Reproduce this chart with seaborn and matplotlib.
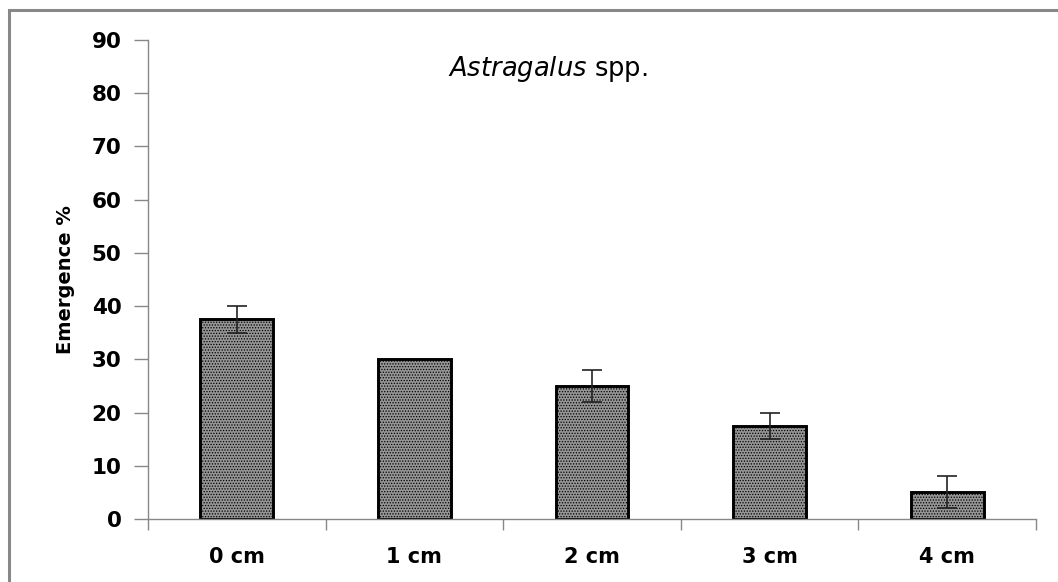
import matplotlib
matplotlib.use("Agg")
import matplotlib.pyplot as plt
import seaborn as sns
import pandas as pd
import numpy as np
from matplotlib.patches import Rectangle
from matplotlib.ticker import FixedLocator

categories = ["0 cm", "1 cm", "2 cm", "3 cm", "4 cm"]
emergence = [37.5, 30.0, 25.0, 17.5, 5.0]
errors = [2.5, 0.0, 3.0, 2.5, 3.0]
y_ticks = [0, 10, 20, 30, 40, 50, 60, 70, 80, 90]

sns.set_style("white")
plt.rcParams["font.family"] = ["DejaVu Sans"]
plt.rcParams["mathtext.fontset"] = "dejavusans"
plt.rcParams["hatch.color"] = "#222222"
plt.rcParams["hatch.linewidth"] = 0.6
plt.rcParams["text.color"] = "black"
plt.rcParams["xtick.color"] = "#888888"
plt.rcParams["ytick.color"] = "#888888"
plt.rcParams["xtick.labelcolor"] = "black"
plt.rcParams["ytick.labelcolor"] = "black"
plt.rcParams["axes.labelcolor"] = "black"

df = pd.DataFrame({"Depth": categories, "Emergence": emergence})

fig = plt.figure(figsize=(10.58, 5.82), dpi=100)
ax = fig.add_axes([148 / 1058, 1 - 519 / 582, (1036 - 148) / 1058, (519 - 40) / 582])

sns.barplot(data=df, x="Depth", y="Emergence", order=categories, color="#959595",
            width=0.41, edgecolor="black", linewidth=2.1, errorbar=None, ax=ax, saturation=1)
for p in ax.patches:
    p.set_hatch("......")

xpos = np.arange(len(categories))
mask = np.array(errors) > 0
ax.errorbar(xpos[mask], np.array(emergence)[mask], yerr=np.array(errors)[mask], fmt="none",
            ecolor="#222222", elinewidth=1.2, capsize=7, capthick=1.2, zorder=5)

ax.set_xlim(-0.5, len(categories) - 0.5)
ax.set_ylim(0, 90)
ax.set_yticks(y_ticks)
ax.set_yticklabels([str(t) for t in y_ticks])
ax.xaxis.set_minor_locator(FixedLocator(np.arange(-0.5, len(categories), 1.0)))
ax.tick_params(axis="x", which="major", bottom=True, length=0, pad=20, labelsize=15)
ax.tick_params(axis="x", which="minor", bottom=True, length=8, width=1, color="#888888",
               direction="out")
ax.tick_params(axis="y", left=True, length=10, width=1, color="#888888", direction="out",
               pad=9, labelsize=15.5)
for lab in ax.get_xticklabels() + ax.get_yticklabels():
    lab.set_fontweight("bold")
    lab.set_color("black")

for s in ["top", "right"]:
    ax.spines[s].set_visible(False)
for s in ["left", "bottom"]:
    ax.spines[s].set_color("#888888")
    ax.spines[s].set_linewidth(1)

ax.set_xlabel("")
ax.set_ylabel("Emergence %", fontsize=14, fontweight="bold", labelpad=12, color="black")

ax.text(0.45, 0.94, r"$\it{Astragalus}$ spp.", transform=ax.transAxes, ha="center",
        va="center", fontsize=18.5, color="black")

fig.patches.append(Rectangle((9 / 1058, -0.1), 1.2, 1 - 10 / 582 + 0.1, transform=fig.transFigure,
                             fill=False, edgecolor="#888888", linewidth=2.2, zorder=-1))

fig.savefig("out.png", dpi=100)
